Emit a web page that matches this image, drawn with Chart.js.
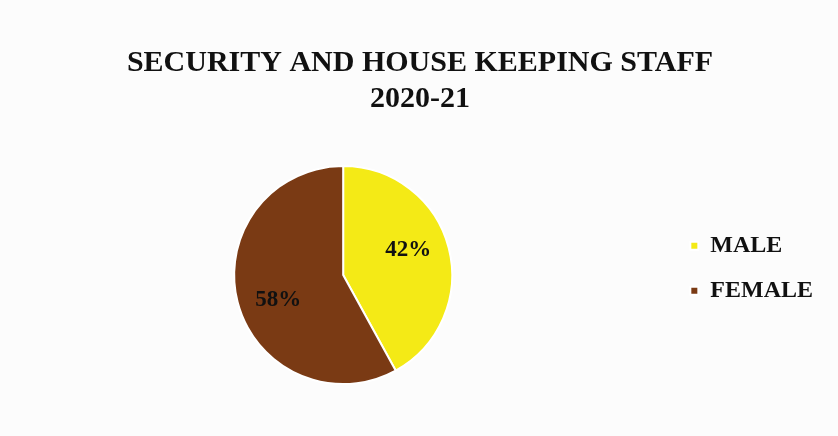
<!DOCTYPE html>
<html>
<head>
<meta charset="utf-8">
<script src="https://cdn.jsdelivr.net/npm/chart.js@4/dist/chart.umd.min.js"></script>
<style>
  html, body { margin: 0; padding: 0; background: #fcfcfc; }
  #wrap { width: 838px; height: 436px; }
</style>
</head>
<body>
<div id="wrap"><canvas id="staffChart"></canvas></div>
<script>
const labels = ["MALE", "FEMALE"];
const shares = [42, 58];
const colors = ["#f4ea16", "#7a3a14"];
const titleLines = ["SECURITY AND HOUSE KEEPING STAFF", "2020-21"];

// draws the percent text inside each slice
const sliceLabels = {
  id: "sliceLabels",
  afterDatasetsDraw(chart) {
    const ctx = chart.ctx;
    const meta = chart.getDatasetMeta(0);
    ctx.save();
    ctx.font = "bold 23px 'Liberation Serif', serif";
    ctx.fillStyle = "#111";
    ctx.textAlign = "center";
    ctx.textBaseline = "middle";
    meta.data.forEach((arc, i) => {
      const p = arc.getProps(["x", "y", "startAngle", "endAngle", "outerRadius"], true);
      const mid = (p.startAngle + p.endAngle) / 2 - 0.12;
      const r = p.outerRadius * 0.64;
      ctx.fillText(shares[i] + "%", p.x + Math.cos(mid) * r, p.y + Math.sin(mid) * r);
    });
    ctx.restore();
  }
};

new Chart(document.getElementById("staffChart"), {
  type: "pie",
  data: {
    labels: labels,
    datasets: [{
      data: shares,
      backgroundColor: colors,
      borderColor: "#ffffff",
      borderWidth: 2
    }]
  },
  options: {
    responsive: true,
    maintainAspectRatio: false,
    animation: false,
    layout: { padding: { top: 45, bottom: 51, left: 17, right: 15 } },
    plugins: {
      title: {
        display: true,
        text: titleLines,
        color: "#111",
        font: { family: "'Liberation Serif', serif", size: 30, weight: "bold", lineHeight: 1.2 },
        padding: { top: 0, bottom: 48 }
      },
      legend: {
        position: "right",
        title: {
          display: true,
          text: " ",
          font: { size: 12 },
          padding: { top: 46, bottom: 46 }
        },
        labels: {
          color: "#111",
          boxWidth: 8,
          boxHeight: 8,
          padding: 21,
          font: { family: "'Liberation Serif', serif", size: 24, weight: "bold" }
        }
      },
      tooltip: { enabled: false }
    }
  },
  plugins: [sliceLabels]
});
</script>
</body>
</html>
